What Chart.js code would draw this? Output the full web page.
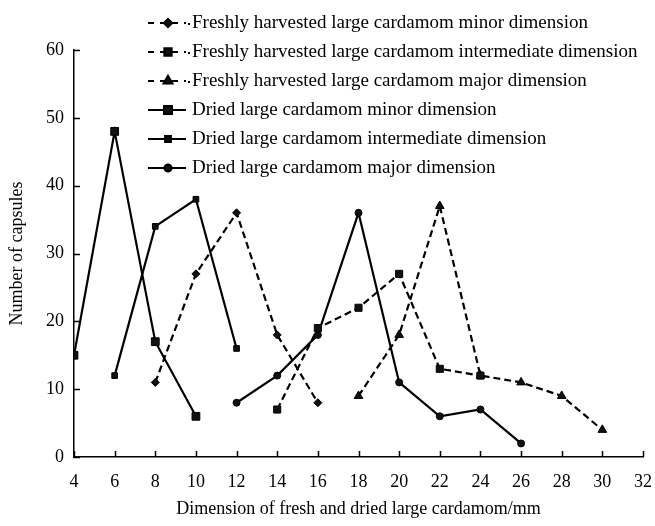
<!DOCTYPE html>
<html>
<head>
<meta charset="utf-8">
<script src="https://cdn.jsdelivr.net/npm/chart.js@4/dist/chart.umd.min.js"></script>
<style>
  html, body { margin: 0; padding: 0; background: #fff; }
  #wrap { width: 655px; height: 526px; }
</style>
</head>
<body>
<div id="wrap"><canvas id="myChart" width="655" height="526"></canvas></div>
<script>
const xTicks = [4, 6, 8, 10, 12, 14, 16, 18, 20, 22, 24, 26, 28, 30, 32]
const yTicks = [0, 10, 20, 30, 40, 50, 60]

const freshMinorX = [8, 10, 12, 14, 16]
const freshMinorY = [11, 27, 36, 18, 8]

const freshInterX = [14, 16, 18, 20, 22, 24]
const freshInterY = [7, 19, 22, 27, 13, 12]

const freshMajorX = [18, 20, 22, 24, 26, 28, 30]
const freshMajorY = [9, 18, 37, 12, 11, 9, 4]

const driedMinorX = [4, 6, 8, 10]
const driedMinorY = [15, 48, 17, 6]

const driedInterX = [6, 8, 10, 12]
const driedInterY = [12, 34, 38, 16]

const driedMajorX = [12, 14, 16, 18, 20, 22, 24, 26]
const driedMajorY = [8, 12, 18, 36, 11, 6, 7, 2]

const FONT = "'Liberation Serif', 'Times New Roman', serif"

const pts = (xs, ys) => xs.map((x, i) => ({ x: x, y: ys[i] }))

const series = (label, xs, ys, style, radius, dashed) => ({
    label: label,
    data: pts(xs, ys),
    showLine: true,
    borderColor: '#000',
    backgroundColor: '#000',
    borderWidth: 2.2,
    borderDash: dashed ? [7, 4] : [],
    pointStyle: style,
    pointRadius: radius,
    pointBorderWidth: 1,
    pointBorderColor: '#000',
    pointBackgroundColor: '#111',
    tension: 0
})

// legend drawn at top, over the plot like in the source figure
const legendPlugin = {
    id: 'figLegend',
    afterDraw(chart) {
        const ctx = chart.ctx
        const x0 = 148, x1 = 186, textX = 192
        ctx.save()
        chart.data.datasets.forEach((ds, i) => {
            const y = 23 + i * 29
            ctx.strokeStyle = '#000'
            ctx.lineWidth = 2.2
            ctx.setLineDash(ds.borderDash.length ? [6, 6] : [])
            ctx.beginPath()
            ctx.moveTo(x0, y)
            ctx.lineTo(x1, y)
            ctx.stroke()
            ctx.setLineDash([])
            if (ds.borderDash.length) {
                ctx.fillStyle = '#000'
                ctx.fillRect(textX - 4, y, 2, 2)
            }
            ctx.fillStyle = '#111'
            Chart.helpers.drawPoint(ctx, {
                pointStyle: ds.pointStyle,
                radius: ds.pointRadius,
                rotation: 0,
                borderWidth: 1
            }, (x0 + x1) / 2 + 1, y)
            ctx.fillStyle = '#000'
            ctx.font = '19px ' + FONT
            ctx.textBaseline = 'middle'
            ctx.textAlign = 'left'
            ctx.fillText(ds.label, textX, y)
        })
        ctx.restore()
    }
}

// short tick marks pointing into the plot
const innerTicks = {
    id: 'innerTicks',
    afterDraw(chart) {
        const ctx = chart.ctx
        const xs = chart.scales.x, ys = chart.scales.y
        const area = chart.chartArea
        ctx.save()
        ctx.strokeStyle = '#000'
        ctx.lineWidth = 1.5
        ctx.beginPath()
        xTicks.forEach(v => {
            const px = Math.round(xs.getPixelForValue(v)) + 0.5
            ctx.moveTo(px, area.bottom)
            ctx.lineTo(px, area.bottom - 6)
        })
        yTicks.forEach(v => {
            const py = Math.round(ys.getPixelForValue(v)) + 0.5
            ctx.moveTo(area.left, py)
            ctx.lineTo(area.left + 6, py)
        })
        ctx.stroke()
        ctx.restore()
    }
}

const config = {
    type: 'scatter',
    data: {
        datasets: [
            series('Freshly harvested large cardamom minor dimension', freshMinorX, freshMinorY, 'rectRot', 4, true),
            series('Freshly harvested large cardamom intermediate dimension', freshInterX, freshInterY, 'rect', 5, true),
            series('Freshly harvested large cardamom major dimension', freshMajorX, freshMajorY, 'triangle', 5, true),
            series('Dried large cardamom minor dimension', driedMinorX, driedMinorY, 'rect', 5.5, false),
            series('Dried large cardamom intermediate dimension', driedInterX, driedInterY, 'rect', 4, false),
            series('Dried large cardamom major dimension', driedMajorX, driedMajorY, 'circle', 3.5, false)
        ]
    },
    options: {
        responsive: false,
        animation: false,
        layout: { padding: { top: 50, right: 12, left: 0, bottom: 0 } },
        plugins: {
            legend: { display: false },
            tooltip: { enabled: false }
        },
        scales: {
            x: {
                type: 'linear',
                min: 4,
                max: 32,
                afterFit: s => { s.height = 69; s.paddingLeft = 0; s.paddingRight = 0 },
                afterBuildTicks: s => { s.ticks = xTicks.map(v => ({ value: v })) },
                grid: { display: true, drawOnChartArea: false, drawTicks: false },
                border: { display: true, color: '#000', width: 1.5 },
                ticks: { color: '#000', padding: 14, font: { family: FONT, size: 18 } },
                title: {
                    display: true,
                    text: 'Dimension of fresh and dried large cardamom/mm',
                    color: '#000',
                    font: { family: FONT, size: 18 },
                    padding: { top: 0, bottom: 6 }
                }
            },
            y: {
                min: 0,
                max: 60,
                afterFit: s => { s.width = 74; s.paddingTop = 0; s.paddingBottom = 0 },
                afterBuildTicks: s => { s.ticks = yTicks.map(v => ({ value: v })) },
                grid: { display: true, drawOnChartArea: false, drawTicks: false },
                border: { display: true, color: '#000', width: 1.5 },
                ticks: { color: '#000', padding: 10, font: { family: FONT, size: 18 } },
                title: {
                    display: true,
                    text: 'Number of capsules',
                    color: '#000',
                    font: { family: FONT, size: 18 },
                    padding: { top: 6, bottom: 0 }
                }
            }
        }
    },
    plugins: [innerTicks, legendPlugin]
}

const myChart = new Chart(document.getElementById('myChart'), config)
</script>
</body>
</html>
